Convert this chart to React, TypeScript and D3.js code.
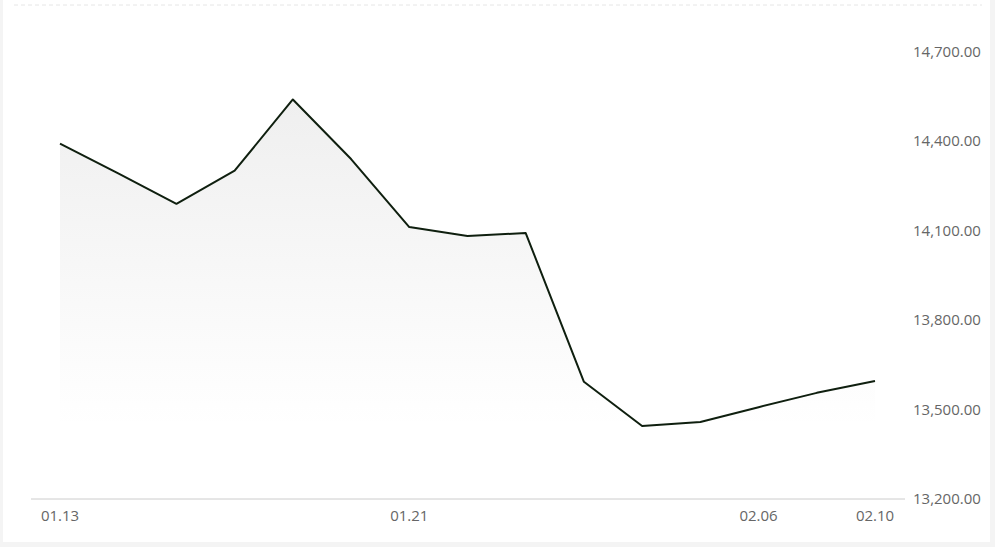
import { useEffect, useRef } from "react";
import * as d3 from "d3";

const dates = [
  "01.13", "01.14", "01.15", "01.16", "01.17", "01.20", "01.21", "01.22",
  "01.23", "01.24", "01.27", "02.05", "02.06", "02.07", "02.10",
];
const closes = [
  14392, 14292, 14190, 14301, 14540, 14340, 14112, 14082,
  14092, 13593, 13445, 13458, 13508, 13556, 13596,
];
const xTickLabels = ["01.13", "01.21", "02.06", "02.10"];
const yTicks = [13200, 13500, 13800, 14100, 14400, 14700];

const W = 995;
const H = 547;

export default function App() {
  const svgRef = useRef<SVGSVGElement | null>(null);

  useEffect(() => {
    const svg = d3.select(svgRef.current);
    svg.selectAll("*").remove();

    const x = d3.scalePoint<string>().domain(dates).range([60, 875]);
    const y = d3.scaleLinear().domain([13200, 14850]).range([499, 7]);

    const defs = svg.append("defs");
    const grad = defs
      .append("linearGradient")
      .attr("id", "areaFill")
      .attr("x1", 0)
      .attr("y1", 0)
      .attr("x2", 0)
      .attr("y2", 1);
    grad.append("stop").attr("offset", "0%").attr("stop-color", "#efefef");
    grad.append("stop").attr("offset", "100%").attr("stop-color", "#ffffff");

    defs
      .append("clipPath")
      .attr("id", "cardClip")
      .append("rect")
      .attr("x", 3)
      .attr("y", 0)
      .attr("width", 979)
      .attr("height", 542);

    svg.append("rect").attr("width", W).attr("height", H).attr("fill", "#f4f4f4");
    svg
      .append("rect")
      .attr("x", 3)
      .attr("y", 0)
      .attr("width", 987)
      .attr("height", 542)
      .attr("fill", "#ffffff");

    const g = svg.append("g").attr("clip-path", "url(#cardClip)");

    // top dashed grid line
    g.append("line")
      .attr("x1", 14)
      .attr("x2", 982)
      .attr("y1", y(14850) - 2)
      .attr("y2", y(14850) - 2)
      .attr("stroke", "#e6e6e6")
      .attr("stroke-dasharray", "4,3");

    const pts = dates.map((d, i) => ({ d, v: closes[i] }));

    g.append("path")
      .datum(pts)
      .attr(
        "d",
        d3
          .area<{ d: string; v: number }>()
          .x((p) => x(p.d) as number)
          .y0(y(13460))
          .y1((p) => y(p.v)),
      )
      .attr("fill", "url(#areaFill)");

    // x axis baseline
    g.append("line")
      .attr("x1", 31)
      .attr("x2", 905)
      .attr("y1", y(13200))
      .attr("y2", y(13200))
      .attr("stroke", "#cccccc")
      .attr("stroke-width", 1);

    g.append("path")
      .datum(pts)
      .attr(
        "d",
        d3
          .line<{ d: string; v: number }>()
          .x((p) => x(p.d) as number)
          .y((p) => y(p.v)),
      )
      .attr("fill", "none")
      .attr("stroke", "#0f1f0f")
      .attr("stroke-width", 2)
      .attr("stroke-linejoin", "round");

    g.append("g")
      .selectAll("text")
      .data(xTickLabels)
      .join("text")
      .attr("x", (d) => x(d) as number)
      .attr("y", 517)
      .attr("text-anchor", "middle")
      .attr("dominant-baseline", "middle")
      .attr("font-family", "'Open Sans', sans-serif")
      .attr("font-size", 15)
      .attr("fill", "#666666")
      .text((d) => d);

    g.append("g")
      .selectAll("text")
      .data(yTicks)
      .join("text")
      .attr("x", 913)
      .attr("y", (d) => y(d) + 1)
      .attr("dominant-baseline", "middle")
      .attr("font-family", "'Open Sans', sans-serif")
      .attr("font-size", 15)
      .attr("fill", "#666666")
      .text((d) => d3.format(",.2f")(d));
  }, []);

  return (
    <svg
      ref={svgRef}
      width={W}
      height={H}
      style={{ position: "absolute", left: 0, top: 0, display: "block" }}
    />
  );
}
